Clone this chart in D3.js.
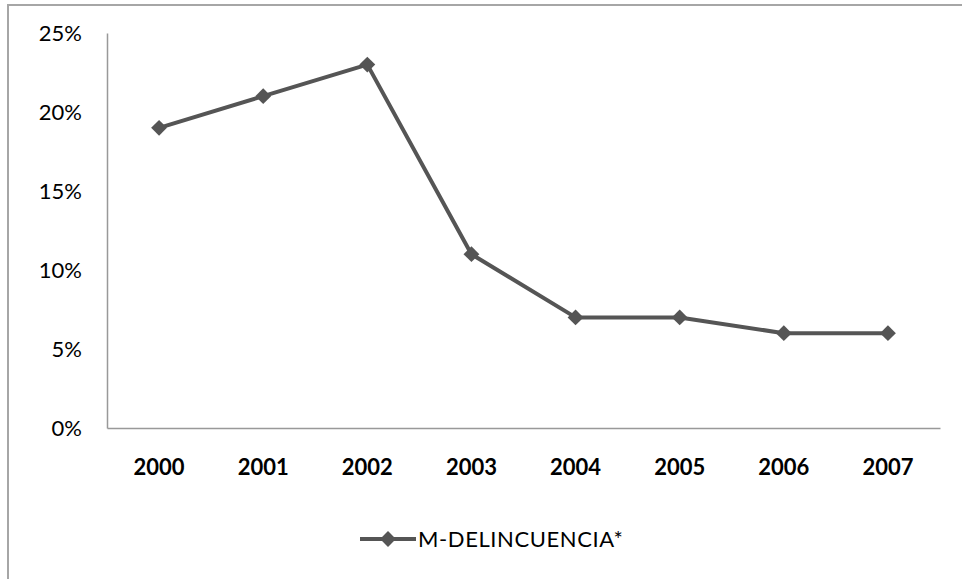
<!DOCTYPE html>
<html>
<head>
<meta charset="utf-8">
<script src="https://cdn.jsdelivr.net/npm/d3@7"></script>
<style>
  body { margin: 0; background: #fff; }
  text { font-family: "Lato", "Open Sans", sans-serif; fill: #000; }
</style>
</head>
<body>
<div id="chart"></div>
<script>
"use strict";

var years = ["2000", "2001", "2002", "2003", "2004", "2005", "2006", "2007"];
var values = [0.19, 0.21, 0.23, 0.11, 0.07, 0.07, 0.06, 0.06];
var yTicks = [0, 0.05, 0.10, 0.15, 0.20, 0.25];
var seriesName = "M-DELINCUENCIA*";

var w = 962,
  h = 579;
var plot = { left: 107, right: 940, top: 33, bottom: 428 };

var svg = d3.select("#chart").append("svg").attr("width", w).attr("height", h);

// outer frame (only top and left edges visible in the picture)
svg.append("path")
  .attr("d", "M8," + h + "V5H" + w)
  .attr("fill", "none")
  .attr("stroke", "#a6a6a6")
  .attr("stroke-width", 2);

var x = d3.scaleBand().domain(years).range([plot.left, plot.right]);
var y = d3.scaleLinear().domain([0, 0.25]).range([plot.bottom, plot.top]);

// axes
var yAxis = svg.append("g")
  .attr("transform", "translate(" + plot.left + ",0)")
  .call(d3.axisLeft(y).tickValues(yTicks).tickSize(0).tickPadding(25).tickFormat(d3.format(".0%")));
yAxis.select(".domain").attr("stroke", "#999").attr("stroke-width", 1.5);
yAxis.selectAll("text").attr("font-size", 22).attr("fill", "#111")
  .style("font-family", "Lato, 'Open Sans', sans-serif");

var xAxis = svg.append("g")
  .attr("transform", "translate(0," + plot.bottom + ")")
  .call(d3.axisBottom(x).tickSize(0).tickPadding(31));
xAxis.select(".domain").attr("stroke", "#999").attr("stroke-width", 1.5);
xAxis.selectAll("text").attr("font-size", 22).attr("font-weight", "bold").attr("fill", "#111")
  .style("font-family", "Lato, 'Open Sans', sans-serif");

// series line
var pts = years.map(function (d, i) { return { year: d, value: values[i] }; });
var line = d3.line()
  .x(function (d) { return x(d.year) + x.bandwidth() / 2; })
  .y(function (d) { return y(d.value); });

svg.append("path")
  .datum(pts)
  .attr("d", line)
  .attr("fill", "none")
  .attr("stroke", "#555")
  .attr("stroke-width", 4)
  .attr("stroke-linejoin", "round");

var diamond = d3.symbol().type(d3.symbolDiamond2).size(160);
svg.selectAll(".marker")
  .data(pts)
  .enter()
  .append("path")
  .attr("class", "marker")
  .attr("d", diamond)
  .attr("transform", function (d) {
    return "translate(" + (x(d.year) + x.bandwidth() / 2) + "," + y(d.value) + ")";
  })
  .attr("fill", "#555");

// legend
var lg = svg.append("g").attr("transform", "translate(360,539)");
lg.append("line")
  .attr("x1", 0).attr("x2", 56).attr("y1", 0).attr("y2", 0)
  .attr("stroke", "#555").attr("stroke-width", 4);
lg.append("path")
  .attr("d", diamond)
  .attr("transform", "translate(28,0)")
  .attr("fill", "#555");
lg.append("text")
  .attr("x", 58).attr("y", 8)
  .attr("font-size", 22)
  .attr("letter-spacing", 0.6)
  .attr("fill", "#111")
  .text(seriesName);
</script>
</body>
</html>
